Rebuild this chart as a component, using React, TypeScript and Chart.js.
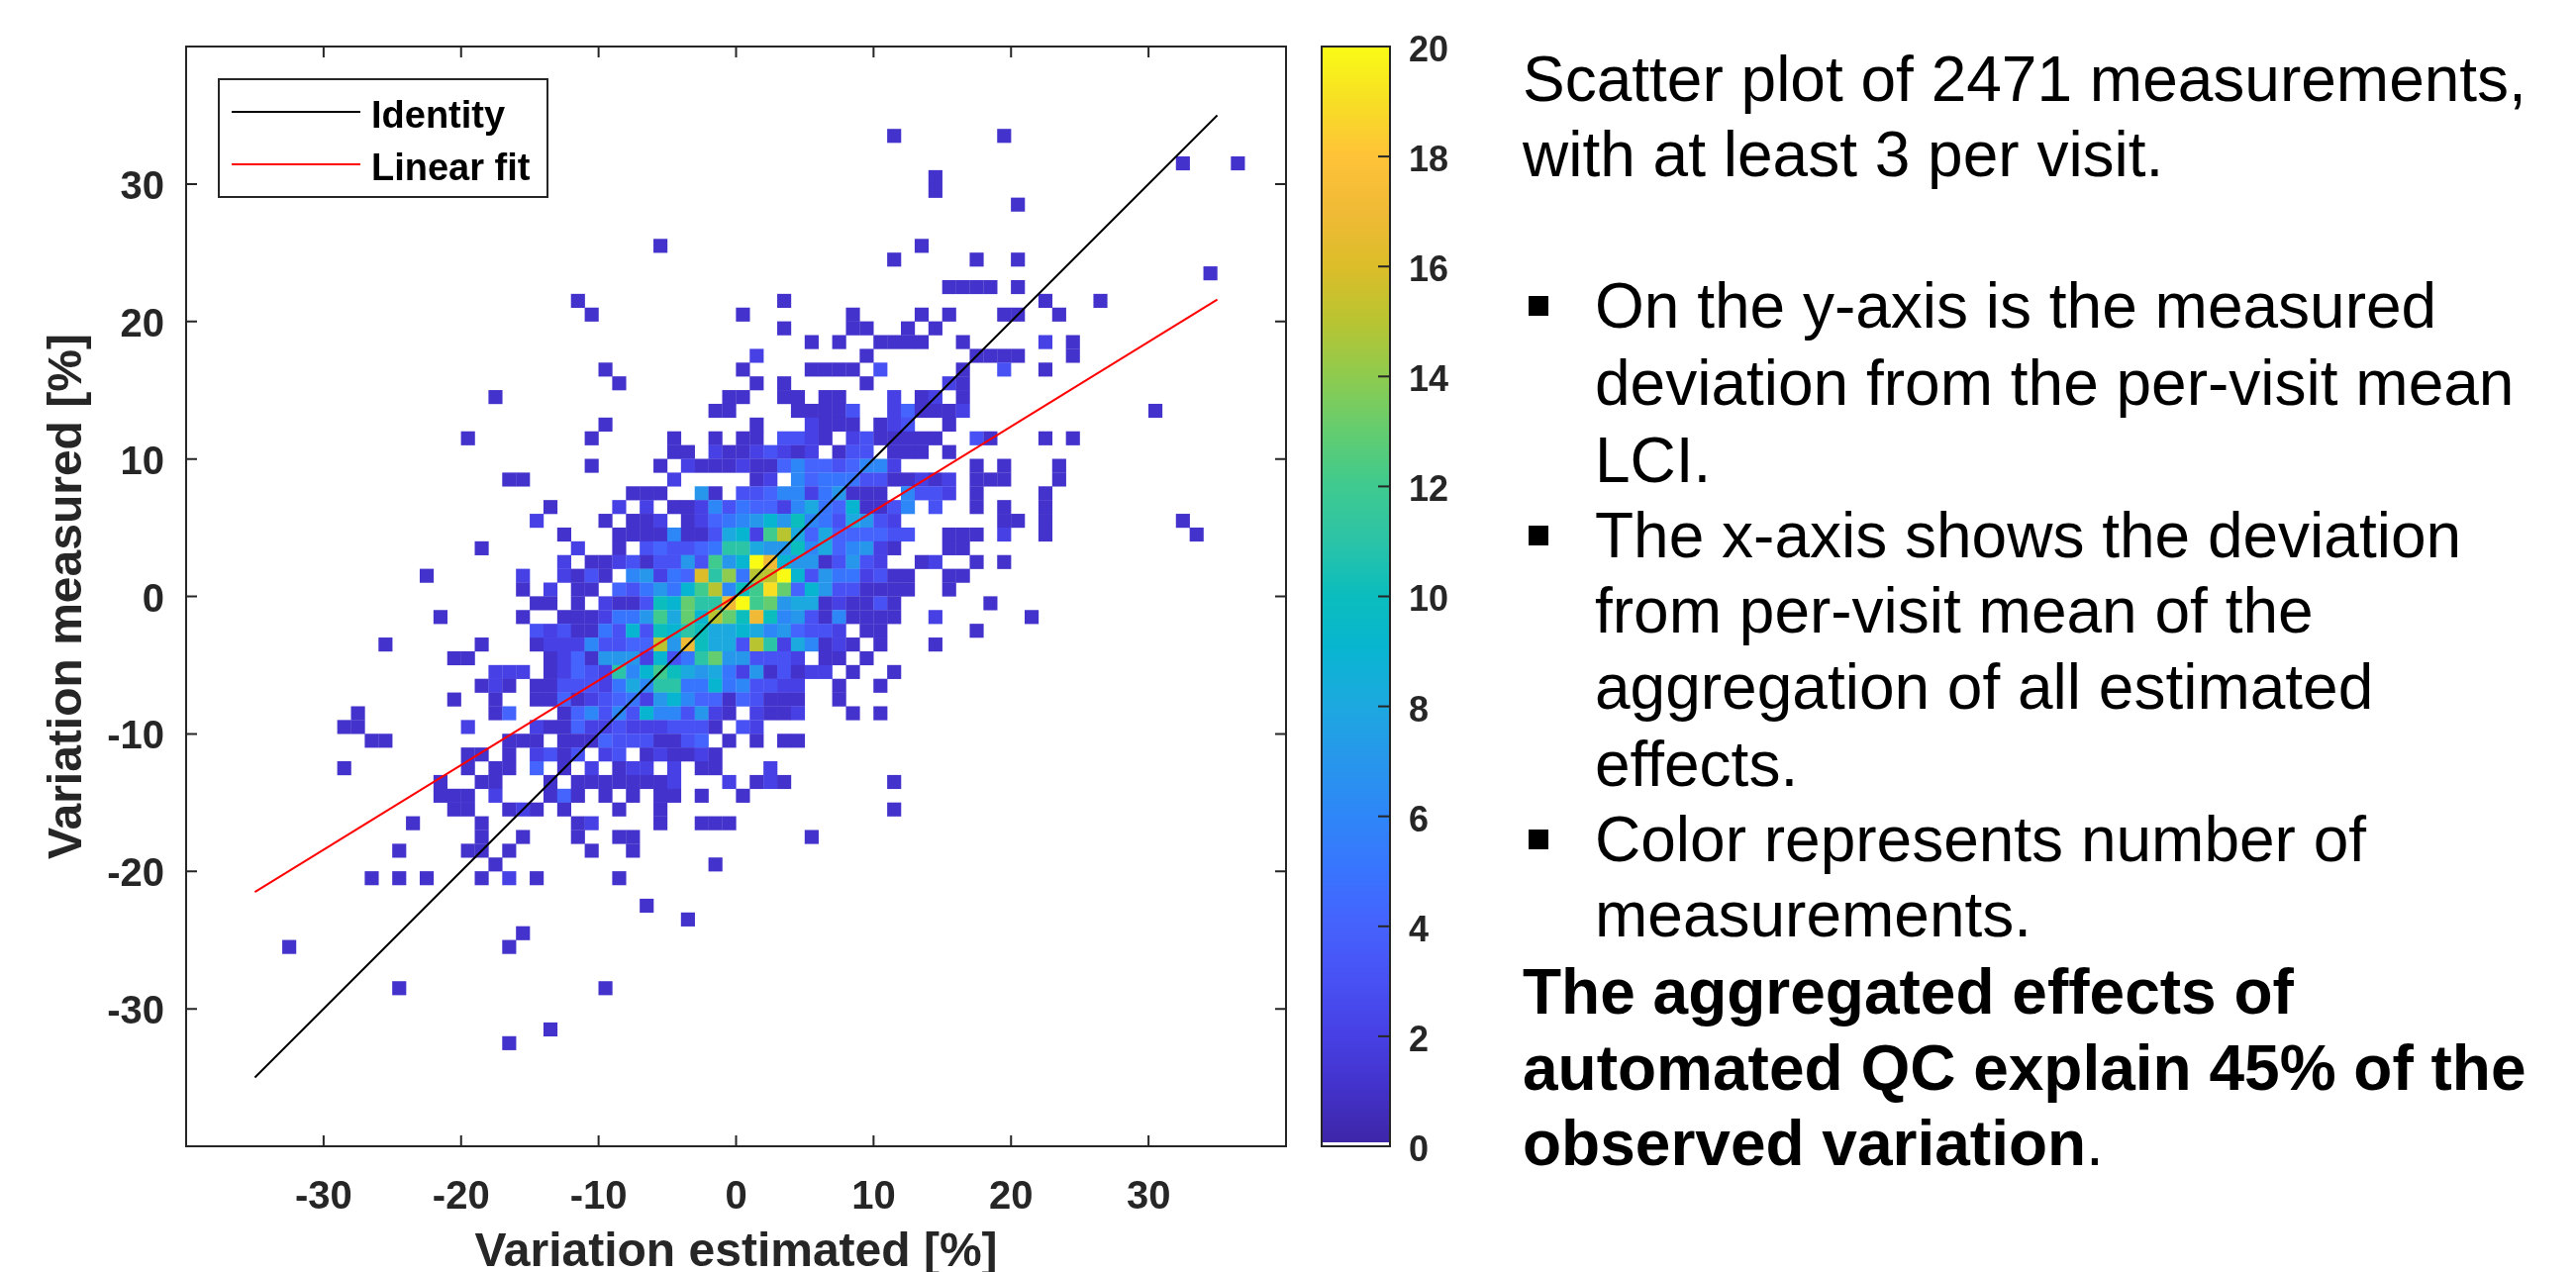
import React, { useEffect, useRef } from "react";
import { Chart, registerables } from "chart.js";

Chart.register(...registerables);

// Each row: [lower edge of measured bin, [first estimated bin, counts...], ...]
const heatRows: any[] = [
  [33, [11, 1], [19, 1]],
  [31, [32, 1], [36, 1]],
  [30, [14, 1]],
  [29, [14, 1]],
  [28, [20, 1]],
  [25, [-6, 1], [13, 1]],
  [24, [11, 1], [17, 1], [20, 1]],
  [23, [34, 1]],
  [22, [15, 1, 1, 1, 1], [20, 1]],
  [21, [-12, 1], [3, 1], [22, 1], [26, 1]],
  [20, [-11, 1], [0, 1], [8, 1], [13, 1], [15, 1], [19, 1, 1], [23, 1]],
  [19, [3, 1], [8, 1, 1], [12, 1], [14, 1]],
  [18, [5, 1], [7, 1], [10, 1, 1, 1, 1], [16, 1], [22, 2], [24, 1]],
  [17, [1, 2], [9, 1], [17, 1, 1, 1, 1], [24, 1]],
  [16, [-10, 1], [0, 1], [5, 1, 1, 1, 1], [10, 3], [16, 1], [19, 3], [22, 1]],
  [15, [-9, 1], [1, 1], [3, 1], [9, 1], [15, 2, 1]],
  [14, [-18, 1], [-1, 1, 1], [3, 1, 1], [6, 1, 1], [11, 2], [13, 1, 2], [16, 1]],
  [13, [-2, 1, 1], [4, 1, 1, 1, 1, 3], [11, 2, 4, 1, 1, 1, 2], [30, 1]],
  [12, [-10, 1], [1, 1], [5, 2, 1, 1, 1], [10, 1, 2, 3], [15, 1]],
  [11, [-20, 1], [-11, 1], [-5, 1], [-2, 1], [0, 1, 1], [3, 3, 3, 2, 1], [8, 2, 3, 1, 1, 1, 1, 1], [17, 3, 1], [22, 1], [24, 1]],
  [10, [-5, 1, 1], [-2, 2, 1, 1, 2, 3, 2, 1, 2], [7, 1, 3, 3], [11, 1, 1, 1], [15, 1]],
  [9, [-11, 1], [-6, 1], [-4, 2, 1, 1, 1, 2, 1, 1, 4, 6, 4, 4, 3, 4, 6, 6, 2], [17, 1], [19, 1], [23, 1]],
  [8, [-17, 1, 1], [-5, 2], [1, 1, 2], [4, 6, 4, 5, 5, 5, 3, 3, 1, 1, 2, 1, 2], [17, 1, 1, 1], [23, 1]],
  [7, [-8, 1, 1, 1], [-3, 7, 1], [0, 3, 3, 4, 6, 6, 2, 5, 7, 1, 1, 1], [12, 6, 3, 3, 2], [17, 1], [22, 1]],
  [6, [-14, 1], [-9, 2], [-7, 2], [-5, 1, 1, 2, 6, 3, 5, 4, 4, 2, 6, 8, 5, 4, 9, 1, 1, 3, 6], [14, 3], [17, 1], [19, 1], [22, 1]],
  [5, [-15, 2], [-10, 1], [-8, 1, 1, 2], [-4, 1, 2, 4, 5, 6, 7, 9, 7, 10, 6, 5, 3, 8, 7, 3, 2], [19, 1, 1], [22, 1], [32, 1]],
  [4, [-13, 1], [-9, 1, 1, 1, 1, 6, 1, 1, 3, 8, 9, 2, 12, 15, 8, 4, 8, 4, 4, 4, 4, 3, 3], [15, 1, 1, 1], [19, 2], [22, 1], [33, 1]],
  [3, [-19, 1], [-12, 2], [-9, 1], [-7, 3, 4, 3, 3, 4, 5, 11, 11, 8, 7, 7, 10, 6, 8, 4, 6, 7, 2, 1], [15, 1, 1]],
  [2, [-13, 2], [-11, 1, 1, 2, 3, 1, 3, 3, 7, 3, 12, 7, 9, 20, 17, 9, 7, 7, 1, 3, 7, 3, 2], [13, 1, 2], [17, 1], [19, 1]],
  [1, [-23, 1], [-16, 2], [-13, 2, 1, 3, 1], [-8, 6, 7, 2, 5, 4, 16, 11, 14, 5, 15, 15, 20, 9, 3, 7, 5, 5, 2, 3, 1, 1], [15, 1, 1]],
  [0, [-16, 1], [-14, 2], [-12, 1, 1], [-9, 4, 3, 5, 7, 5, 9, 12, 15, 6, 10, 12, 19, 13, 4, 9, 7, 3, 3, 1, 1, 1, 1], [15, 1]],
  [-1, [-15, 1, 1], [-12, 1], [-10, 2, 1, 1, 3, 10, 9, 13, 11, 11, 17, 20, 12, 13, 7, 8, 8, 1, 2, 1, 1, 3, 1], [18, 1]],
  [-2, [-22, 1], [-16, 1], [-13, 1, 1, 1, 2, 5, 5, 7, 12, 8, 13, 9, 15, 13, 10, 17, 10, 6, 7, 3, 1, 6, 1, 1, 1, 1], [14, 2], [21, 1]],
  [-3, [-15, 3, 2, 3, 1, 1, 5, 3, 9, 3, 10, 9, 11, 10, 8, 8, 9, 8, 6, 7, 4, 3, 3, 2], [9, 1, 1], [17, 1]],
  [-4, [-26, 1], [-19, 1], [-15, 1, 2, 2, 2, 6, 3, 3, 4, 4, 15, 7, 17, 10, 8, 8, 3, 15, 11, 2, 8, 6, 1, 2, 1], [10, 1], [14, 1]],
  [-5, [-21, 1, 1], [-14, 1, 2, 4, 1, 7, 7, 7, 2, 9, 3, 5, 11, 13, 7, 7, 3, 3, 3, 2], [6, 1, 1], [9, 1]],
  [-6, [-18, 2, 2, 2], [-14, 1, 2, 4, 3, 2, 11, 6, 9, 12, 10, 8, 7, 8, 5, 2, 7, 1, 3, 1, 2, 2], [8, 1], [11, 1]],
  [-7, [-19, 1, 2, 1], [-15, 1, 1, 3, 3, 3, 2, 5, 8, 6, 11, 11, 5, 5, 9, 5, 6, 3, 3, 2, 2], [7, 1], [10, 1]],
  [-8, [-21, 1], [-18, 1], [-15, 1, 1, 4, 1, 2, 3, 4, 5, 2, 7, 9, 6, 4, 4, 1, 4, 3, 1, 1, 1], [7, 1]],
  [-9, [-28, 1], [-18, 1, 4], [-13, 1, 4, 6, 3, 6, 3, 9, 6, 6, 3, 7, 2, 1], [1, 2, 1, 1, 2], [8, 1], [10, 1]],
  [-10, [-29, 1, 1], [-20, 2], [-15, 2, 1, 1, 4, 2, 2, 3, 2, 2, 2, 3, 3, 3, 1], [0, 3, 2]],
  [-11, [-27, 1, 1], [-17, 1, 1, 1], [-13, 1, 1, 1, 4, 3, 3, 3, 1, 1, 3, 4], [-1, 1], [1, 1], [3, 1, 1]],
  [-12, [-20, 1, 1], [-17, 1], [-15, 2, 3, 1, 3], [-10, 2, 3], [-7, 1, 2, 1, 1, 2, 1]],
  [-13, [-29, 1], [-20, 1], [-18, 1, 1], [-15, 4], [-13, 1], [-11, 2], [-9, 1, 2, 2], [-5, 2], [-3, 1, 1], [2, 2]],
  [-14, [-22, 1], [-19, 1, 1], [-14, 1], [-12, 1, 1, 1, 1, 1, 1, 1, 2], [-1, 2], [1, 1, 2, 1], [11, 1]],
  [-15, [-22, 1, 1, 1], [-18, 2], [-14, 1, 4, 1], [-10, 1], [-8, 1], [-6, 1, 1], [-3, 1], [0, 1]],
  [-16, [-21, 1, 1], [-17, 1, 2, 1], [-13, 1], [-9, 1], [-6, 1], [11, 1]],
  [-17, [-24, 1], [-19, 1], [-12, 1, 2], [-6, 1], [-3, 1, 1, 1]],
  [-18, [-19, 1], [-16, 1], [-12, 1], [-9, 1, 1], [5, 1]],
  [-19, [-25, 1], [-20, 1, 1], [-17, 1], [-11, 1], [-8, 1]],
  [-20, [-18, 1], [-2, 1]],
  [-21, [-27, 1], [-25, 1], [-23, 1], [-19, 1], [-17, 2], [-15, 1], [-9, 1]],
  [-23, [-7, 1]],
  [-24, [-4, 1]],
  [-25, [-16, 1]],
  [-26, [-33, 1], [-17, 1]],
  [-29, [-25, 1], [-10, 1]],
  [-32, [-14, 1]],
  [-33, [-17, 1]],
];

const xTickValues = [-30, -20, -10, 0, 10, 20, 30];
const yTickValues = [-30, -20, -10, 0, 10, 20, 30];
const colorbarTicks = [0, 2, 4, 6, 8, 10, 12, 14, 16, 18, 20];
const identityLine = [{ x: -35, y: -35 }, { x: 35, y: 35 }];
const fitLine = [{ x: -35, y: -21.5 }, { x: 35, y: 21.6 }];

const parula: number[][] = [
  [0.2422, 0.1504, 0.6603], [0.2647, 0.1978, 0.7952], [0.2783, 0.2559, 0.8991], [0.2810, 0.3228, 0.9579],
  [0.2699, 0.3892, 0.9906], [0.2206, 0.4603, 0.9973], [0.1786, 0.5289, 0.9682], [0.1540, 0.5902, 0.9218],
  [0.1113, 0.6635, 0.8763], [0.0297, 0.7082, 0.8163], [0.0433, 0.7411, 0.7394], [0.1717, 0.7670, 0.6554],
  [0.2470, 0.7918, 0.5567], [0.3909, 0.8029, 0.4354], [0.5616, 0.7942, 0.3045], [0.7242, 0.7698, 0.1910],
  [0.8634, 0.7406, 0.1596], [0.9393, 0.7288, 0.2100], [0.9970, 0.7659, 0.2199], [0.9679, 0.8738, 0.1397],
  [0.9769, 0.9839, 0.0805],
];

function rgb(c: number[]) {
  return `rgb(${Math.round(c[0] * 255)},${Math.round(c[1] * 255)},${Math.round(c[2] * 255)})`;
}
function countColor(v: number) {
  return rgb(parula[Math.max(0, Math.min(20, Math.round(v)))]);
}

const heatPoints: { x: number; y: number; c: number }[] = [];
heatRows.forEach((row) => {
  const r = row[0];
  row.slice(1).forEach((seg: number[]) => {
    seg.slice(1).forEach((c, i) => {
      if (c > 0) heatPoints.push({ x: seg[0] + i + 0.5, y: r + 0.5, c });
    });
  });
});

const FONT = '"Liberation Sans", Arial, sans-serif';
const INK = "#262626";

// Moves the tick labels of the y scale down: the reference centres digits on their ink, not on the em box.
const labelNudge = {
  id: "labelNudge",
  beforeDraw(chart: any, _a: any, opts: any) {
    const items = chart.scales.y.getLabelItems(chart.chartArea);
    if (items.__nudged) return;
    items.forEach((it: any) => { it.options.translation = [it.options.translation[0], it.options.translation[1] + (opts.dy ?? 0)]; });
    items.__nudged = true;
  },
};

const frameTicks = {
  id: "frameTicks",
  afterDatasetsDraw(chart: any, _a: any, opts: any) {
    const { ctx, chartArea: a, scales } = chart;
    ctx.save();
    ctx.strokeStyle = INK;
    ctx.lineWidth = 2;
    ctx.strokeRect(a.left, a.top, a.right - a.left, a.bottom - a.top);
    const L = opts.length ?? 11;
    if (opts.sides?.includes("x")) {
      scales.x.ticks.forEach((t: any) => {
        const px = scales.x.getPixelForValue(t.value);
        ctx.beginPath();
        ctx.moveTo(px, a.bottom); ctx.lineTo(px, a.bottom - L);
        ctx.moveTo(px, a.top); ctx.lineTo(px, a.top + L);
        ctx.stroke();
      });
    }
    scales.y.ticks.forEach((t: any) => {
      const py = scales.y.getPixelForValue(t.value);
      ctx.beginPath();
      if (opts.sides?.includes("y")) { ctx.moveTo(a.left, py); ctx.lineTo(a.left + L, py); }
      if (t.value > 0 && t.value < (opts.capMax ?? Infinity) || opts.sides?.includes("y")) {
        ctx.moveTo(a.right, py); ctx.lineTo(a.right - L, py);
      }
      ctx.stroke();
    });
    ctx.restore();
  },
};

const lineLegend = {
  id: "lineLegend",
  afterDatasetsDraw(chart: any) {
    const { ctx } = chart;
    const items = chart.data.datasets.filter((d: any) => d.showLine);
    ctx.save();
    ctx.fillStyle = "#fff";
    ctx.fillRect(221, 80, 332, 119);
    ctx.strokeStyle = INK;
    ctx.lineWidth = 2;
    ctx.strokeRect(221, 80, 332, 119);
    items.forEach((d: any, i: number) => {
      const y = 113 + i * 53;
      ctx.strokeStyle = d.borderColor;
      ctx.lineWidth = 2;
      ctx.beginPath();
      ctx.moveTo(234, y); ctx.lineTo(364, y);
      ctx.stroke();
      ctx.fillStyle = "#000";
      ctx.font = `bold 38px ${FONT}`;
      ctx.textAlign = "left";
      ctx.textBaseline = "middle";
      ctx.fillText(d.label, 375, y + 6);
    });
    ctx.restore();
  },
};

const textLines = [
  { y: 80, x: 1538, t: "Scatter plot of 2471 measurements," },
  { y: 156, x: 1538, t: "with at least 3 per visit." },
  { y: 309, x: 1611, t: "On the y-axis is the measured", bullet: true },
  { y: 387, x: 1611, t: "deviation from the per-visit mean" },
  { y: 465, x: 1611, t: "LCI." },
  { y: 541, x: 1611, t: "The x-axis shows the deviation", bullet: true },
  { y: 617, x: 1611, t: "from per-visit mean of the" },
  { y: 694, x: 1611, t: "aggregation of all estimated" },
  { y: 772, x: 1611, t: "effects." },
  { y: 848, x: 1611, t: "Color represents number of", bullet: true },
  { y: 924, x: 1611, t: "measurements." },
  { y: 1002, x: 1538, t: "The aggregated effects of", bold: true },
  { y: 1079, x: 1538, t: "automated QC explain 45% of the", bold: true },
  { y: 1155, x: 1538, t: "observed variation", bold: true, tail: "." },
];

export default function App() {
  const mainRef = useRef<HTMLCanvasElement>(null);
  const barRef = useRef<HTMLCanvasElement>(null);

  useEffect(() => {
    document.body.style.margin = "0";
    document.body.style.background = "#fff";
    const fixedScale = (size: number, key: "width" | "height") => (s: any) => { s[key] = size; };
    const main = new Chart(mainRef.current!, {
      type: "scatter",
      data: {
        datasets: [
          { label: "Identity", data: identityLine, showLine: true, borderColor: "#000000", borderWidth: 2, pointRadius: 0, order: 0 },
          { label: "Linear fit", data: fitLine, showLine: true, borderColor: "#ff0000", borderWidth: 2, pointRadius: 0, order: 0 },
          {
            label: "Counts",
            data: heatPoints,
            pointStyle: "rect",
            pointRadius: 10,
            pointBorderWidth: 0,
            pointBackgroundColor: heatPoints.map((p) => countColor(p.c)),
            order: 1,
          },
        ] as any,
      },
      plugins: [frameTicks, lineLegend, labelNudge],
      options: {
        animation: false,
        responsive: false,
        devicePixelRatio: 1,
        layout: { padding: { left: 0, top: 47, right: 21, bottom: 0 } },
        scales: {
          x: {
            type: "linear", min: -40, max: 40,
            afterFit: fixedScale(127, "height"),
            afterBuildTicks: (s: any) => { s.ticks = xTickValues.map((value) => ({ value })); },
            grid: { display: false, drawTicks: false }, border: { display: false },
            ticks: { padding: 28, maxRotation: 0, autoSkip: false, color: INK, font: { family: FONT, weight: "bold", size: 40 } },
            title: { display: true, text: "Variation estimated [%]", color: INK, font: { family: FONT, weight: "bold", size: 48 }, padding: { top: 6, bottom: -10 } },
          },
          y: {
            type: "linear", min: -40, max: 40,
            afterFit: fixedScale(188, "width"),
            afterBuildTicks: (s: any) => { s.ticks = yTickValues.map((value) => ({ value })); },
            grid: { display: false, drawTicks: false }, border: { display: false },
            ticks: { padding: 22, autoSkip: false, color: INK, font: { family: FONT, weight: "bold", size: 40 } },
            title: { display: true, text: "Variation measured [%]", color: INK, font: { family: FONT, weight: "bold", size: 48 }, padding: { top: 40, bottom: 0 } },
          },
        },
        plugins: { legend: { display: false }, tooltip: { enabled: false }, frameTicks: { sides: ["x", "y"], length: 11 }, labelNudge: { dy: 4 } } as any,
      },
    } as any);

    const bar = new Chart(barRef.current!, {
      type: "bar",
      data: {
        labels: ["count"],
        datasets: [
          {
            data: [[0, 20]],
            borderWidth: 0,
            barPercentage: 1,
            categoryPercentage: 1,
            backgroundColor: (c: any) => {
              const a = c.chart.chartArea;
              if (!a) return "#fff";
              const g = c.chart.ctx.createLinearGradient(0, a.bottom, 0, a.top);
              g.addColorStop(0, "#ffffff");
              g.addColorStop(0.0038, "#ffffff");
              g.addColorStop(0.0039, rgb(parula[0]));
              parula.forEach((p, i) => g.addColorStop(0.0039 + (i / 20) * 0.9961, rgb(p)));
              return g;
            },
          },
        ],
      },
      plugins: [frameTicks, labelNudge],
      options: {
        animation: false,
        responsive: false,
        devicePixelRatio: 1,
        layout: { padding: { left: 15, top: 47, right: 0, bottom: 127 } },
        scales: {
          x: { display: false },
          y: {
            position: "right", min: 0, max: 20,
            afterFit: fixedScale(96, "width"),
            afterBuildTicks: (s: any) => { s.ticks = colorbarTicks.map((value) => ({ value })); },
            grid: { display: false, drawTicks: false }, border: { display: false },
            ticks: { padding: 19, autoSkip: false, color: INK, font: { family: FONT, weight: "bold", size: 36 } },
          },
        },
        plugins: { legend: { display: false }, tooltip: { enabled: false }, frameTicks: { sides: [], length: 12, capMax: 20 }, labelNudge: { dy: 5 } } as any,
      },
    } as any);

    return () => { main.destroy(); bar.destroy(); };
  }, []);

  return (
    <div style={{ position: "absolute", left: 0, top: 0, width: 2602, height: 1285, overflow: "hidden", background: "#fff" }}>
      <canvas ref={mainRef} width={1320} height={1285} style={{ position: "absolute", left: 0, top: 0, width: 1320, height: 1285 }} />
      <canvas ref={barRef} width={180} height={1285} style={{ position: "absolute", left: 1320, top: 0, width: 180, height: 1285 }} />
      {textLines.map((l) => (
        <React.Fragment key={l.t}>
          {l.bullet ? <div style={{ position: "absolute", left: 1544, top: l.y - 10, width: 20, height: 20, background: "#000" }} /> : null}
          <div style={{ position: "absolute", left: l.x, top: l.y - 38, height: 76, lineHeight: "76px", whiteSpace: "nowrap", fontFamily: FONT, fontSize: 64, color: "#000", fontWeight: l.bold ? 700 : 400 }}>
            {l.t}{l.tail ? <span style={{ fontWeight: 400 }}>{l.tail}</span> : null}
          </div>
        </React.Fragment>
      ))}
    </div>
  );
}
